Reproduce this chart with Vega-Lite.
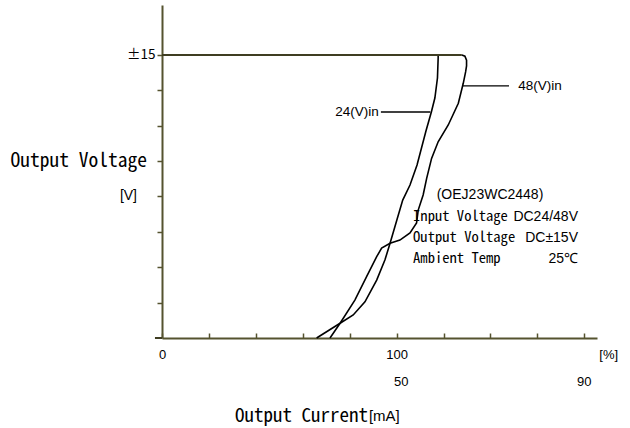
{
  "$schema": "https://vega.github.io/schema/vega-lite/v6.json",
  "width": 435,
  "height": 333,
  "autosize": {"type": "none"},
  "padding": {"left": 162, "top": 5, "right": 33, "bottom": 90},
  "background": "white",
  "config": {"view": {"stroke": null}},
  "datasets": {
    "curves": [
      {"series": "24(V)in", "order": 1, "x": 117.7, "y": 15.0},
      {"series": "24(V)in", "order": 2, "x": 117.7, "y": 14.84},
      {"series": "24(V)in", "order": 3, "x": 117.4, "y": 13.78},
      {"series": "24(V)in", "order": 4, "x": 116.3, "y": 12.72},
      {"series": "24(V)in", "order": 5, "x": 114.8, "y": 11.98},
      {"series": "24(V)in", "order": 6, "x": 112.5, "y": 10.97},
      {"series": "24(V)in", "order": 7, "x": 108.7, "y": 9.17},
      {"series": "24(V)in", "order": 8, "x": 105.7, "y": 8.11},
      {"series": "24(V)in", "order": 9, "x": 102.6, "y": 7.31},
      {"series": "24(V)in", "order": 10, "x": 100.1, "y": 6.25},
      {"series": "24(V)in", "order": 11, "x": 97.2, "y": 5.02},
      {"series": "24(V)in", "order": 12, "x": 95.0, "y": 4.13},
      {"series": "24(V)in", "order": 13, "x": 91.5, "y": 3.07},
      {"series": "24(V)in", "order": 14, "x": 86.5, "y": 1.92},
      {"series": "24(V)in", "order": 15, "x": 81.5, "y": 1.22},
      {"series": "24(V)in", "order": 16, "x": 75.9, "y": 0.78},
      {"series": "24(V)in", "order": 17, "x": 65.9, "y": 0},
      {"series": "48(V)in", "order": 1, "x": 127.8, "y": 15.0},
      {"series": "48(V)in", "order": 2, "x": 129.1, "y": 14.94},
      {"series": "48(V)in", "order": 3, "x": 129.8, "y": 14.73},
      {"series": "48(V)in", "order": 4, "x": 129.8, "y": 14.42},
      {"series": "48(V)in", "order": 5, "x": 129.4, "y": 14.1},
      {"series": "48(V)in", "order": 6, "x": 128.4, "y": 13.5},
      {"series": "48(V)in", "order": 7, "x": 126.3, "y": 12.44},
      {"series": "48(V)in", "order": 8, "x": 122.0, "y": 11.29},
      {"series": "48(V)in", "order": 9, "x": 117.7, "y": 10.4},
      {"series": "48(V)in", "order": 10, "x": 114.9, "y": 9.52},
      {"series": "48(V)in", "order": 11, "x": 112.8, "y": 8.46},
      {"series": "48(V)in", "order": 12, "x": 111.3, "y": 7.58},
      {"series": "48(V)in", "order": 13, "x": 109.2, "y": 6.78},
      {"series": "48(V)in", "order": 14, "x": 108.5, "y": 6.1},
      {"series": "48(V)in", "order": 15, "x": 105.7, "y": 5.57},
      {"series": "48(V)in", "order": 16, "x": 101.4, "y": 5.19},
      {"series": "48(V)in", "order": 17, "x": 97.2, "y": 5.02},
      {"series": "48(V)in", "order": 18, "x": 93.6, "y": 4.77},
      {"series": "48(V)in", "order": 19, "x": 91.5, "y": 4.31},
      {"series": "48(V)in", "order": 20, "x": 87.2, "y": 3.25},
      {"series": "48(V)in", "order": 21, "x": 82.2, "y": 2.01},
      {"series": "48(V)in", "order": 22, "x": 75.9, "y": 0.78},
      {"series": "48(V)in", "order": 23, "x": 71.6, "y": 0}
    ],
    "guides": [
      {"x": 0, "x2": 127.8, "y": 15},
      {"x": -3, "x2": 0, "y": 0}
    ],
    "leaders": [
      {"series": "24(V)in", "x": 93.3, "x2": 114.4, "y": 11.98},
      {"series": "48(V)in", "x": 128.2, "x2": 147.9, "y": 13.36}
    ],
    "seriesLabels": [
      {"text": "24(V)in", "x": 83.1, "y": 11.98},
      {"text": "48(V)in", "x": 161.1, "y": 13.36}
    ],
    "model": [{"text": "(OEJ23WC2448)", "x": 139.8, "y": 7.58}],
    "specNames": [
      {"text": "Input Voltage", "x": 107.0, "y": 6.41},
      {"text": "Output Voltage", "x": 107.0, "y": 5.3},
      {"text": "Ambient Temp", "x": 107.0, "y": 4.19}
    ],
    "specValues": [
      {"text": "DC24/48V", "x": 177.3, "y": 6.41},
      {"text": "DC±15V", "x": 177.3, "y": 5.3},
      {"text": "25℃", "x": 177.3, "y": 4.19}
    ],
    "xLabels2": [
      {"text": "[%]", "x": 190.4, "y": -0.9},
      {"text": "50", "x": 102.0, "y": -2.33},
      {"text": "90", "x": 180.0, "y": -2.33}
    ],
    "yTitle": [{"text": "Output Voltage", "x": 0, "y": 9.375}],
    "yUnit": [{"text": "[V]", "x": 0, "y": 7.5}],
    "xTitle": [{"text": "Output Current", "x": 87.8, "y": -4.13}],
    "xUnit": [{"text": "[mA]", "x": 88.2, "y": -4.13}]
  },
  "layer": [
    {
      "data": {"name": "curves"},
      "mark": {"type": "line", "color": "black", "strokeWidth": 1.6, "interpolate": "linear"},
      "encoding": {
        "x": {
          "field": "x", "type": "quantitative",
          "scale": {"domain": [0, 185.4], "nice": false, "zero": false},
          "axis": {
            "title": null,
            "values": [0, 20, 40, 60, 80, 100, 120, 140, 160, 180],
            "labelExpr": "datum.value == 0 ? '0' : datum.value == 100 ? '100' : ''",
            "grid": false,
            "domainColor": "#55532f", "domainWidth": 2,
            "tickColor": "#55532f", "tickWidth": 1.5, "tickSize": -5,
            "labelFont": "Liberation Sans", "labelFontSize": 13, "labelColor": "black",
            "labelPadding": 15, "labelFlush": false
          }
        },
        "y": {
          "field": "y", "type": "quantitative",
          "scale": {"domain": [0, 17.65], "nice": false, "zero": false},
          "axis": {
            "title": null,
            "values": [1.875, 3.75, 5.625, 7.5, 9.375, 11.25, 13.125, 15],
            "labelExpr": "datum.value == 15 ? '±15' : ''",
            "grid": false,
            "domainColor": "#55532f", "domainWidth": 2,
            "tickColor": "#55532f", "tickWidth": 1.5, "tickSize": 5,
            "labelFont": "Noto Sans CJK JP", "labelFontSize": 13.5, "labelColor": "black",
            "labelPadding": 2
          }
        },
        "detail": {"field": "series", "type": "nominal"},
        "order": {"field": "order", "type": "quantitative"}
      }
    },
    {
      "data": {"name": "guides"},
      "mark": {"type": "rule", "color": "#3f3d22", "strokeWidth": 2},
      "encoding": {
        "x": {"field": "x", "type": "quantitative"},
        "x2": {"field": "x2"},
        "y": {"field": "y", "type": "quantitative"}
      }
    },
    {
      "data": {"name": "leaders"},
      "mark": {"type": "rule", "color": "black", "strokeWidth": 1.3},
      "encoding": {
        "x": {"field": "x", "type": "quantitative"},
        "x2": {"field": "x2"},
        "y": {"field": "y", "type": "quantitative"}
      }
    },
    {
      "data": {"name": "seriesLabels"},
      "mark": {"type": "text", "font": "Liberation Sans", "fontSize": 13.5, "align": "center", "baseline": "middle", "color": "black"},
      "encoding": {
        "x": {"field": "x", "type": "quantitative"},
        "y": {"field": "y", "type": "quantitative"},
        "text": {"field": "text"}
      }
    },
    {
      "data": {"name": "model"},
      "mark": {"type": "text", "font": "Liberation Sans", "fontSize": 14, "align": "center", "baseline": "middle", "color": "black"},
      "encoding": {
        "x": {"field": "x", "type": "quantitative"},
        "y": {"field": "y", "type": "quantitative"},
        "text": {"field": "text"}
      }
    },
    {
      "data": {"name": "specNames"},
      "mark": {"type": "text", "font": "Noto Sans Mono CJK JP", "fontSize": 14.6, "align": "left", "baseline": "middle", "color": "black"},
      "encoding": {
        "x": {"field": "x", "type": "quantitative"},
        "y": {"field": "y", "type": "quantitative"},
        "text": {"field": "text"}
      }
    },
    {
      "data": {"name": "specValues"},
      "mark": {"type": "text", "font": "Liberation Sans", "fontSize": 14, "align": "right", "baseline": "middle", "color": "black"},
      "encoding": {
        "x": {"field": "x", "type": "quantitative"},
        "y": {"field": "y", "type": "quantitative"},
        "text": {"field": "text"}
      }
    },
    {
      "data": {"name": "xLabels2"},
      "mark": {"type": "text", "font": "Liberation Sans", "fontSize": 13, "align": "center", "baseline": "middle", "color": "black"},
      "encoding": {
        "x": {"field": "x", "type": "quantitative"},
        "y": {"field": "y", "type": "quantitative"},
        "text": {"field": "text"}
      }
    },
    {
      "data": {"name": "yTitle"},
      "mark": {"type": "text", "font": "Noto Sans Mono CJK JP", "fontSize": 19.5, "align": "right", "baseline": "middle", "dx": -15, "color": "black"},
      "encoding": {
        "x": {"field": "x", "type": "quantitative"},
        "y": {"field": "y", "type": "quantitative"},
        "text": {"field": "text"}
      }
    },
    {
      "data": {"name": "yUnit"},
      "mark": {"type": "text", "font": "Liberation Sans", "fontSize": 14, "align": "right", "baseline": "middle", "dx": -25, "color": "black"},
      "encoding": {
        "x": {"field": "x", "type": "quantitative"},
        "y": {"field": "y", "type": "quantitative"},
        "text": {"field": "text"}
      }
    },
    {
      "data": {"name": "xTitle"},
      "mark": {"type": "text", "font": "Noto Sans Mono CJK JP", "fontSize": 19, "align": "right", "baseline": "middle", "color": "black"},
      "encoding": {
        "x": {"field": "x", "type": "quantitative"},
        "y": {"field": "y", "type": "quantitative"},
        "text": {"field": "text"}
      }
    },
    {
      "data": {"name": "xUnit"},
      "mark": {"type": "text", "font": "Liberation Sans", "fontSize": 15, "align": "left", "baseline": "middle", "color": "black"},
      "encoding": {
        "x": {"field": "x", "type": "quantitative"},
        "y": {"field": "y", "type": "quantitative"},
        "text": {"field": "text"}
      }
    }
  ]
}
